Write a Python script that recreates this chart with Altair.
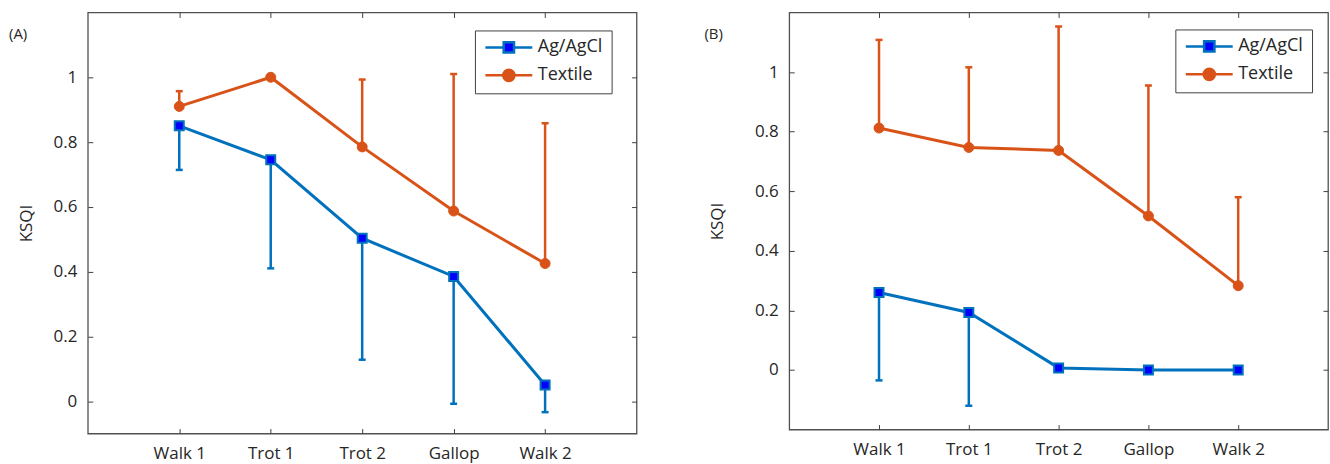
import altair as alt
import pandas as pd

# ---------------- data ----------------
categories = ["Walk 1", "Trot 1", "Trot 2", "Gallop", "Walk 2"]
series_names = ["Ag/AgCl", "Textile"]

a_agcl = [0.850, 0.745, 0.503, 0.385, 0.050]
a_agcl_low = [0.714, 0.410, 0.128, -0.008, -0.034]
a_textile = [0.910, 1.000, 0.785, 0.587, 0.425]
a_textile_high = [0.957, 1.000, 0.993, 1.010, 0.858]

b_agcl = [0.260, 0.193, 0.007, 0.000, 0.000]
b_agcl_low = [-0.035, -0.120, 0.007, 0.000, 0.000]
b_textile = [0.812, 0.747, 0.737, 0.517, 0.283]
b_textile_high = [1.108, 1.016, 1.153, 0.955, 0.580]

y_ticks = [0, 0.2, 0.4, 0.6, 0.8, 1]

BLUE_LINE = "#0072BD"
BLUE_FILL = "#0000FF"
ORANGE = "#D95319"
FONT = "Open Sans"
TEXT = "#262626"
AXC = "#404040"

SQUARE_LEG = "M-1,0H-0.22M0.22,0H1M-0.22,-0.22H0.22V0.22H-0.22Z"
CIRCLE_LEG = ("M-1,0H-0.24M0.24,0H1M0.24,0A0.24,0.24,0,1,1,-0.24,0"
              "A0.24,0.24,0,1,1,0.24,0Z")


def panel_frame(ag, ag_low, tex, tex_high):
    rows = []
    for i, c in enumerate(categories):
        rows.append({"cond": c, "series": "Ag/AgCl", "value": ag[i], "bound": ag_low[i]})
        rows.append({"cond": c, "series": "Textile", "value": tex[i], "bound": tex_high[i]})
    return pd.DataFrame(rows)


def panel(df, label, label_dx, ydomain, width, height, title_pad, leg_x, leg_y):
    xscale = alt.Scale(type="point", domain=categories, padding=1)
    yscale = alt.Scale(domain=ydomain, nice=False, zero=False)

    x_main = alt.X("cond:N", scale=xscale, sort=categories, title=None,
                   axis=alt.Axis(orient="bottom", offset=-5, tickSize=5, tickColor=AXC,
                                 domain=False, grid=False, labelPadding=12, labelAngle=0,
                                 labelFont=FONT, labelFontSize=17, labelColor=TEXT))
    y_main = alt.Y("value:Q", scale=yscale, title="KSQI",
                   axis=alt.Axis(orient="left", offset=-5, tickSize=5, tickColor=AXC,
                                 domain=False, grid=False, values=y_ticks, format=".1~f",
                                 labelPadding=11, labelFont=FONT, labelFontSize=17,
                                 labelColor=TEXT, titleFont=FONT, titleFontSize=17,
                                 titleFontWeight="normal", titleColor=TEXT,
                                 titlePadding=title_pad))
    x_top = alt.X("cond:N", scale=xscale, sort=categories, title=None,
                  axis=alt.Axis(orient="top", offset=-5, tickSize=5, tickColor=AXC,
                                domain=False, grid=False, labels=False))
    y_right = alt.Y("value:Q", scale=yscale, title=None,
                    axis=alt.Axis(orient="right", offset=-5, tickSize=5, tickColor=AXC,
                                  domain=False, grid=False, labels=False, values=y_ticks))
    x_none = alt.X("cond:N", scale=xscale, sort=categories, axis=None)
    y_none = alt.Y("value:Q", scale=yscale, axis=None)
    bound_y = alt.Y("bound:Q", scale=yscale, axis=None)

    base = alt.Chart(df)
    ag = base.transform_filter(alt.datum.series == "Ag/AgCl")
    tx = base.transform_filter(alt.datum.series == "Textile")

    layers = []
    for sub, col in ((ag, BLUE_LINE), (tx, ORANGE)):
        layers.append(sub.mark_rule(color=col, strokeWidth=2.5).encode(
            x=x_none, y=y_none, y2="bound:Q"))
        layers.append(sub.mark_tick(color=col, size=7, thickness=2.5, opacity=1).encode(
            x=x_none, y=bound_y))
    layers.append(tx.mark_line(color=ORANGE, strokeWidth=3).encode(x=x_main, y=y_main))
    layers.append(ag.mark_line(color=BLUE_LINE, strokeWidth=3).encode(x=x_none, y=y_none))
    layers.append(ag.mark_point(shape="square", filled=True, fill=BLUE_FILL, stroke=BLUE_LINE,
                                strokeWidth=2, size=81, opacity=1).encode(x=x_top, y=y_right))
    layers.append(tx.mark_point(shape="circle", filled=True, fill=ORANGE, stroke=ORANGE,
                                strokeWidth=1, size=100, opacity=1).encode(x=x_none, y=y_none))

    leg = alt.Legend(title=None, orient="none", legendX=leg_x, legendY=leg_y,
                     symbolSize=2209, symbolStrokeWidth=2.5, symbolOpacity=1,
                     labelFont=FONT, labelFontSize=18, labelColor=TEXT, labelOffset=4,
                     padding=9, rowPadding=10, clipHeight=16,
                     strokeColor=AXC, fillColor="white", cornerRadius=0)
    # legend-only layer (no rows drawn); the legend comes from the explicit scale domains
    layers.append(base.transform_filter("false").mark_point(
        filled=True, opacity=1, strokeWidth=2.5).encode(
        fill=alt.Fill("series:N", scale=alt.Scale(domain=series_names, range=[BLUE_FILL, ORANGE]), legend=leg),
        stroke=alt.Stroke("series:N", scale=alt.Scale(domain=series_names, range=[BLUE_LINE, ORANGE]), legend=leg),
        shape=alt.Shape("series:N", scale=alt.Scale(domain=series_names, range=[SQUARE_LEG, CIRCLE_LEG]), legend=leg),
    ))

    return alt.layer(*layers).resolve_axis(
        x="independent", y="independent"
    ).properties(
        width=width, height=height,
        title=alt.TitleParams(label, anchor="start", frame="group", orient="top",
                              dx=label_dx, dy=30, offset=0, baseline="top",
                              font=FONT, fontSize=15, fontWeight="normal", color=TEXT),
    )


df_a = panel_frame(a_agcl, a_agcl_low, a_textile, a_textile_high)
df_b = panel_frame(b_agcl, b_agcl_low, b_textile, b_textile_high)

pa = panel(df_a, "(A)", -79, [-0.1, 1.2], 550, 422, 18, 388, 18)
pb = panel(df_b, "(B)", -85, [-0.2, 1.2], 540, 418, 28, 387, 17)

chart = alt.hconcat(pa, pb, spacing=65).resolve_scale(
    x="independent", y="independent",
    fill="independent", stroke="independent", shape="independent",
).resolve_legend(
    fill="independent", stroke="independent", shape="independent"
).configure_view(
    stroke="#505050", strokeWidth=1.3
).properties(
    padding={"left": 8, "top": 10, "right": 0, "bottom": 0},
    background="white",
)

chart.save("out.html", embed_options={"renderer": "svg", "actions": False})
